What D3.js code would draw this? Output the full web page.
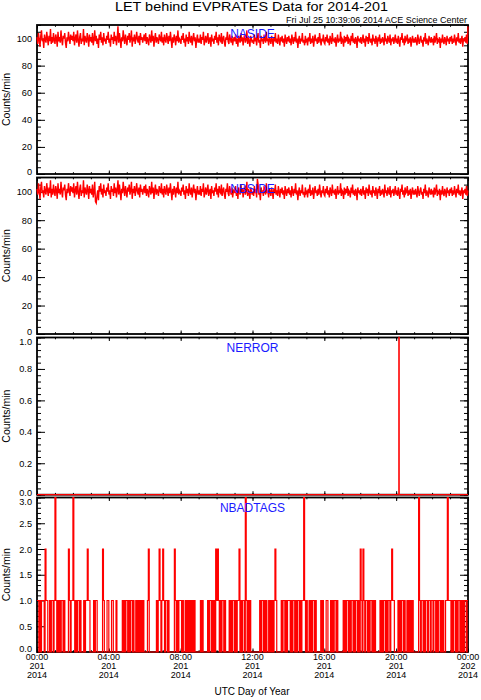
<!DOCTYPE html>
<html>
<head>
<meta charset="utf-8">
<script src="https://cdn.jsdelivr.net/npm/d3@7"></script>
<style>
  body { margin: 0; background: #fff; }
  text { font-family: "Liberation Sans", Arial, Helvetica, sans-serif; }
</style>
</head>
<body>
<svg id="chart"></svg>
<script>
// NASIDE counts/min, 2.5-minute samples, one row per hour of day 201
const naside = [
  101,96,104,99,94,102,106,98,100,93,103,99,97,105,100,95,102,98,107,96,101,97,104,99,
  96,103,100,94,105,98,101,97,106,99,95,102,100,104,97,93,101,98,105,100,96,103,99,102,
  98,105,95,100,103,97,106,99,94,101,104,96,100,98,107,95,102,99,97,104,100,94,103,98,
  101,97,104,95,99,106,98,102,96,100,93,103,99,105,97,101,95,104,98,100,96,102,99,105,
  97,100,94,103,99,101,96,105,98,102,95,100,109,97,104,99,93,101,98,106,100,96,103,99,
  95,102,99,104,97,100,106,94,101,98,103,96,100,105,99,97,102,95,104,99,101,97,100,103,
  98,104,96,101,99,95,103,100,97,106,98,102,94,100,104,97,101,99,96,103,100,98,105,97,
  101,95,103,99,97,104,100,96,102,98,105,99,93,101,97,103,100,95,102,98,106,97,100,99,
  96,102,99,104,97,100,94,103,98,101,96,105,99,97,102,95,100,104,98,101,93,99,103,97,
  100,97,103,96,101,99,105,95,98,102,97,100,104,96,99,101,94,103,98,100,96,102,99,105,
  97,101,95,103,99,98,104,96,100,102,97,94,101,99,105,98,96,103,100,97,102,95,99,101,
  98,103,96,100,94,102,99,97,104,98,101,95,100,103,97,99,106,96,101,98,94,102,100,97,
  99,96,103,98,101,95,100,104,97,99,93,102,98,100,96,103,99,97,105,98,100,95,101,99,
  96,102,99,94,101,98,104,97,100,96,103,99,95,101,98,102,97,100,94,103,99,96,101,98,
  102,97,100,95,103,99,96,101,98,105,97,100,93,99,102,96,100,98,104,97,99,95,102,98,
  99,95,101,98,104,96,100,97,102,94,99,103,98,100,96,101,97,104,99,95,100,98,103,97,
  96,101,98,103,97,100,95,102,99,96,104,98,100,97,101,94,99,103,97,100,98,105,96,100,
  99,94,102,97,101,98,103,96,100,99,95,102,98,104,97,100,96,101,99,93,102,98,100,97,
  101,96,99,103,97,100,94,102,98,101,96,104,99,97,100,95,103,98,100,96,102,99,94,101,
  98,103,96,100,97,101,99,95,104,98,100,96,102,99,97,103,95,100,98,101,96,99,103,97,
  100,96,102,98,94,101,99,104,97,100,95,102,98,99,103,96,100,97,101,94,99,102,97,100,
  97,101,98,95,103,99,96,100,102,97,99,94,101,98,104,96,100,98,95,102,99,97,101,98,
  99,95,102,97,100,104,96,99,98,101,93,100,97,103,98,96,101,99,95,102,98,100,96,101,
  98,102,96,100,97,103,99,95,101,98,104,97,100,96,99,102,94,100,98,101,97,103,96,109
];

// NBSIDE counts/min, 2.5-minute samples
const nbside = [
  102,98,106,100,95,103,107,99,101,96,104,100,98,106,101,97,103,99,108,96,102,98,105,100,
  97,104,101,95,106,99,102,98,107,100,96,103,101,105,98,94,102,99,106,101,97,104,100,103,
  99,106,96,101,104,98,107,100,95,102,105,97,101,99,108,96,103,100,98,105,101,95,104,99,
  102,98,105,96,100,107,93,92,97,101,94,104,100,106,98,102,96,105,99,101,97,103,100,106,
  98,101,95,104,100,102,97,106,99,103,96,101,108,98,105,100,94,102,99,107,101,97,104,100,
  96,103,100,105,98,101,107,95,102,99,104,97,101,106,100,98,103,96,105,100,102,98,101,104,
  99,105,97,102,100,96,104,101,98,107,99,103,95,101,105,98,102,100,97,104,101,99,106,98,
  102,96,104,100,98,105,101,97,103,99,106,100,94,102,98,104,101,96,103,99,107,98,101,100,
  97,103,100,105,98,101,95,104,99,102,97,106,100,98,103,96,101,105,99,102,94,100,104,98,
  101,98,104,97,102,100,106,96,99,103,98,101,105,97,100,102,95,104,99,101,97,103,100,106,
  98,102,96,104,100,99,105,97,101,103,98,95,102,100,106,99,97,104,101,98,103,96,100,102,
  99,104,97,101,95,103,100,98,105,99,102,96,101,104,98,100,107,97,102,99,95,103,101,98,
  100,97,104,99,102,96,109,105,98,100,94,103,99,101,97,104,100,98,106,99,101,96,102,100,
  97,103,100,95,102,99,105,98,101,97,104,100,96,102,99,103,98,101,95,104,100,97,102,99,
  103,98,101,96,104,100,97,102,99,106,98,101,94,100,103,97,101,99,105,98,100,96,103,99,
  100,96,102,99,105,97,101,98,103,95,100,104,99,101,97,102,98,105,100,96,101,99,104,98,
  97,102,99,104,98,101,96,103,100,97,105,99,101,98,102,95,100,104,98,101,99,106,97,101,
  100,95,103,98,102,99,104,97,101,100,96,103,99,105,98,101,97,102,100,94,103,99,101,98,
  102,97,100,104,98,101,95,103,99,102,97,105,100,98,101,96,104,99,101,97,103,100,95,102,
  99,104,97,101,98,102,100,96,105,99,101,97,103,100,98,104,96,101,99,102,97,100,104,98,
  101,97,103,99,95,102,100,105,98,101,96,103,99,100,104,97,101,98,102,95,100,103,98,101,
  98,102,99,96,104,100,97,101,103,98,100,95,102,99,105,97,101,99,96,103,100,98,102,99,
  100,96,103,98,101,105,97,100,99,102,94,101,98,104,99,97,102,100,96,103,99,101,97,102,
  99,103,97,101,98,104,100,96,102,99,105,98,101,97,100,103,95,101,99,102,98,104,97,101
];

// NERROR: minute of day and value (one event near 20:09)
const nerrorMinutes = [0, 1208, 1209, 1210, 1440];
const nerrorValues = [0, 0, 1, 0, 0];

// NBADTAGS counts, 3-minute bins, one row per hour
const nbadtags = [
  1,1,0,1,0,1,1,1,0,2,1,1,0,0,1,0,1,1,0,1,
  3,1,0,1,0,1,0,1,1,0,1,0,0,0,0,2,1,0,1,1,
  3,1,0,1,0,1,1,0,1,0,0,0,1,0,1,1,2,1,1,0,
  0,0,0,1,0,1,1,0,0,0,0,0,0,2,1,0,0,0,1,1,
  0,0,0,1,1,0,0,0,1,0,0,0,0,0,0,1,0,1,0,1,
  1,0,1,0,1,1,0,1,0,0,1,0,1,0,1,0,1,0,1,0,
  0,0,0,1,2,0,0,0,0,0,0,0,0,1,0,1,2,1,0,1,
  2,1,0,1,1,0,1,0,0,0,0,0,0,2,1,0,1,0,1,1,
  1,0,1,0,0,1,0,1,0,1,0,1,0,1,0,1,0,0,0,0,
  0,0,1,0,1,0,0,0,0,0,1,0,1,1,0,1,0,1,0,2,
  1,2,1,0,1,0,1,1,0,1,0,0,0,0,1,0,1,0,1,1,
  0,1,0,1,1,2,0,1,0,1,1,0,3,1,0,1,0,1,0,0,
  0,0,0,0,0,0,0,0,1,0,1,1,0,1,0,1,0,0,1,0,
  1,0,1,0,1,2,1,0,0,0,0,0,1,0,1,1,0,1,0,1,
  1,1,0,1,0,1,1,0,1,0,1,1,0,1,0,1,1,3,1,0,
  1,0,0,1,0,1,0,1,1,0,1,0,0,0,0,0,1,0,1,0,
  0,0,1,1,0,0,0,1,0,1,0,1,1,0,1,0,0,0,0,0,
  0,1,0,1,0,1,1,0,1,0,1,1,0,1,0,1,1,0,1,0,
  2,1,0,2,1,0,1,1,0,1,0,1,1,0,1,0,1,0,0,0,
  0,0,1,0,1,0,1,1,0,1,0,1,1,0,1,2,1,1,0,0,
  0,0,1,0,1,0,1,1,0,1,0,0,1,0,1,0,1,0,1,0,
  0,0,0,0,0,3,1,0,1,1,0,1,0,1,1,0,1,1,0,1,
  1,0,1,1,0,1,0,1,1,0,1,0,1,0,0,1,1,3,1,1,
  1,0,1,0,1,1,0,1,0,1,1,0,1,0,1,0,1,1,0,1
];

const panelNames = ['NASIDE', 'NBSIDE', 'NERROR', 'NBADTAGS'];
const yMax = [110, 110, 1, 3];
const yMajorStep = [20, 20, 0.2, 0.5];
const yMinorStep = [5, 5, 0.04, 0.1];

const width = 481, height = 700;
const left = 37, right = 468;
const dayStart = Date.UTC(2014, 6, 20); // day 201 of 2014
const toDate = m => new Date(dayStart + m * 60000);

const svg = d3.select('#chart').attr('width', width).attr('height', height);
svg.append('rect').attr('width', width).attr('height', height).attr('fill', '#fff');

const x = d3.scaleUtc().domain([toDate(0), toDate(1440)]).range([left, right]);

function series(vals, step) {
    return vals.map((v, i) => ({ t: toDate(i * step), v: v }));
}
var badtagPts = series(nbadtags, 1440 / nbadtags.length);
badtagPts.push({ t: toDate(1440), v: nbadtags[nbadtags.length - 1] });

const panels = [
    { top: 25, bottom: 174, fmt: d3.format('d'), curve: d3.curveLinear, labelDy: 13.3, sw: 1.4, lowPad: 2.5,
      data: series(naside, 1440 / (naside.length - 1)) },
    { top: 177.5, bottom: 334, fmt: d3.format('d'), curve: d3.curveLinear, labelDy: 15, sw: 1.4, lowPad: 2.5,
      data: series(nbside, 1440 / (nbside.length - 1)) },
    { top: 337.5, bottom: 494.7, fmt: d3.format('.1f'), curve: d3.curveStepAfter, labelDy: 14.8, sw: 1.3, lowPad: 2.5,
      data: nerrorMinutes.map((m, i) => ({ t: toDate(m), v: nerrorValues[i] })) },
    { top: 497.5, bottom: 652, fmt: d3.format('.1f'), curve: d3.curveStepAfter, labelDy: 14.8, sw: 1.2, lowPad: 3.6,
      data: badtagPts }
];

function styleTicks(g) {
    g.select('.domain').remove();
    g.selectAll('.tick line').attr('stroke', '#000').attr('stroke-width', 1);
    g.selectAll('.tick text').attr('fill', '#000').attr('font-size', 9.2)
        .attr('font-family', '"Liberation Sans", Arial, Helvetica, sans-serif');
}

panels.forEach(function(p, k) {
    var y = d3.scaleLinear().domain([0, yMax[k]]).range([p.bottom, p.top]);
    var majors = d3.range(0, yMax[k] + 1e-9, yMajorStep[k]);
    var minors = d3.range(0, yMax[k] + 1e-9, yMinorStep[k]);
    var g = svg.append('g');

    // y minor + major ticks, left and right
    g.append('g').attr('transform', 'translate(' + left + ',0)')
        .call(d3.axisLeft(y).tickValues(minors).tickSize(-4).tickFormat('')).call(styleTicks);
    g.append('g').attr('transform', 'translate(' + right + ',0)')
        .call(d3.axisRight(y).tickValues(minors).tickSize(-4).tickFormat('')).call(styleTicks);
    g.append('g').attr('transform', 'translate(' + right + ',0)')
        .call(d3.axisRight(y).tickValues(majors).tickSize(-8).tickFormat('')).call(styleTicks);
    var yl = g.append('g').attr('transform', 'translate(' + left + ',0)')
        .call(d3.axisLeft(y).tickValues(majors).tickSize(-8).tickPadding(5).tickFormat(p.fmt))
        .call(styleTicks);
    // keep the end labels inside the panel, like the original
    yl.selectAll('.tick text').attr('dy', null).attr('dominant-baseline', 'central')
        .attr('y', function(d) {
            var c = y(d);
            var cl = Math.max(p.top + 3.5, Math.min(p.bottom - p.lowPad, c));
            return cl - c;
        });

    // x ticks on top and bottom
    [['top', p.top, d3.axisTop], ['bottom', p.bottom, d3.axisBottom]].forEach(function(a) {
        g.append('g').attr('transform', 'translate(0,' + a[1] + ')')
            .call(a[2](x).ticks(d3.utcHour.every(1)).tickSize(-1.8).tickFormat('')).call(styleTicks);
        g.append('g').attr('transform', 'translate(0,' + a[1] + ')')
            .call(a[2](x).ticks(d3.utcHour.every(4)).tickSize(-3.5).tickFormat('')).call(styleTicks);
    });

    g.append('rect').attr('x', left).attr('y', p.top)
        .attr('width', right - left).attr('height', p.bottom - p.top)
        .attr('fill', 'none').attr('stroke', '#000').attr('stroke-width', 1.8);

    var line = d3.line().x(d => x(d.t)).y(d => y(d.v)).curve(p.curve);
    g.append('path').datum(p.data).attr('d', line)
        .attr('fill', 'none').attr('stroke', '#ff0000').attr('stroke-width', p.sw);

    g.append('text').attr('x', (left + right) / 2).attr('y', p.top + p.labelDy)
        .attr('text-anchor', 'middle').attr('font-size', 12).attr('fill', '#1a1aff')
        .text(panelNames[k]);

    g.append('text')
        .attr('transform', 'translate(9.5,' + ((p.top + p.bottom) / 2) + ') rotate(-90)')
        .attr('text-anchor', 'middle').attr('font-size', 10.5).attr('fill', '#000')
        .text('Counts/min');
});

// three-line time labels under the last panel
var fmtTime = d3.utcFormat('%H:%M'), fmtDay = d3.utcFormat('%j'), fmtYear = d3.utcFormat('%Y');
var lab = svg.append('g').selectAll('g').data(x.ticks(d3.utcHour.every(4))).enter().append('g')
    .attr('transform', d => 'translate(' + x(d) + ',0)');
lab.append('text').attr('y', 660.3).attr('text-anchor', 'middle').attr('font-size', 9).text(fmtTime);
lab.append('text').attr('y', 669).attr('text-anchor', 'middle').attr('font-size', 9).text(fmtDay);
lab.append('text').attr('y', 677.7).attr('text-anchor', 'middle').attr('font-size', 9).text(fmtYear);

svg.append('text').attr('x', 252).attr('y', 695).attr('text-anchor', 'middle')
    .attr('font-size', 10).text('UTC Day of Year');

svg.append('text').attr('x', 251.5).attr('y', 11).attr('text-anchor', 'middle')
    .attr('font-size', 13).attr('textLength', 273).attr('lengthAdjust', 'spacingAndGlyphs')
    .text('LET behind EVPRATES Data for 2014-201');
svg.append('text').attr('x', 467).attr('y', 23.3).attr('text-anchor', 'end')
    .attr('font-size', 8.3).attr('textLength', 181).attr('lengthAdjust', 'spacingAndGlyphs')
    .text('Fri Jul 25 10:39:06 2014 ACE Science Center');
</script>
</body>
</html>
